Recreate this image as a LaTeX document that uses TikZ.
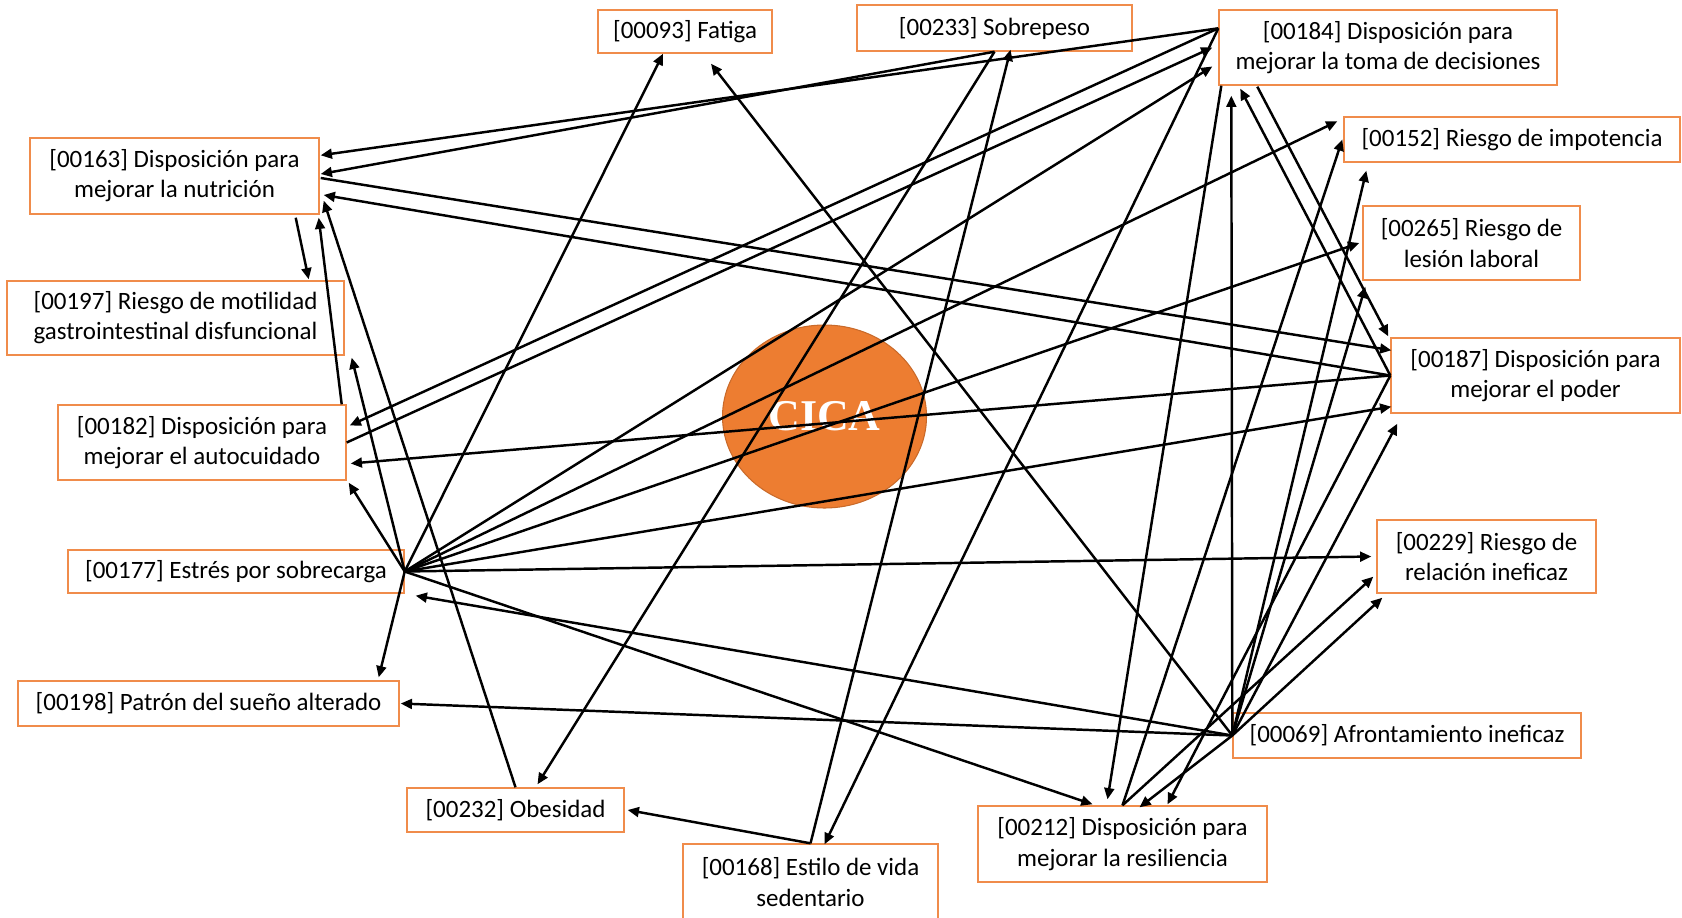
\documentclass[tikz,border=0pt]{standalone}
\usepackage{fontspec}
\setmainfont{Carlito}
\newfontfamily\cicafont{Liberation Serif}
\usetikzlibrary{arrows.meta,calc,shapes.geometric}
\definecolor{dxorange}{RGB}{237,125,49}
\definecolor{dxline}{RGB}{240,140,75}
\tikzset{lnk/.style={-{Triangle[length=3.2pt,width=2.8pt]}, line width=0.7pt},
  dxbox/.style={draw=dxline, line width=0.4pt, inner sep=0pt, align=center, font=\fontsize{7.1}{8.6}\selectfont}}

\begin{document}
\begin{tikzpicture}[x=0.1mm,y=-0.1mm]
  \useasboundingbox (0,0) rectangle (1682,917);
  \node[ellipse, fill=dxorange, draw=dxorange!85!black, line width=0.3pt, minimum width=20.4mm, minimum height=18.3mm, inner sep=0pt, text=white, font=\cicafont\bfseries\fontsize{12.5}{14}\selectfont] (cica) at (824.5,416.5) {CICA};

  \node[dxbox, minimum width=17.4mm, minimum height=4.3mm] (n093) at (685,31.5) {[00093] Fatiga};
  \node[dxbox, minimum width=27.5mm, minimum height=4.6mm] (n233) at (994.5,28) {[00233] Sobrepeso};
  \node[dxbox, minimum width=33.8mm, minimum height=7.5mm] (n184) at (1388,47.5) {[00184] Disposición para\\mejorar la toma de decisiones};
  \node[dxbox, minimum width=33.6mm, minimum height=4.5mm] (n152) at (1512,139.5) {[00152] Riesgo de impotencia};
  \node[dxbox, minimum width=21.7mm, minimum height=7.4mm] (n265) at (1471.5,243) {[00265] Riesgo de\\lesión laboral};
  \node[dxbox, minimum width=28.9mm, minimum height=7.5mm] (n187) at (1535.5,375.5) {[00187] Disposición para\\mejorar el poder};
  \node[dxbox, minimum width=21.9mm, minimum height=7.3mm] (n229) at (1486.5,556.5) {[00229] Riesgo de\\relación ineficaz};
  \node[dxbox, minimum width=34.8mm, minimum height=4.5mm] (n069) at (1407,735.5) {[00069] Afrontamiento ineficaz};
  \node[dxbox, minimum width=28.9mm, minimum height=7.6mm] (n212) at (1122.5,844) {[00212] Disposición para\\mejorar la resiliencia};
  \node[dxbox, minimum width=25.5mm, minimum height=7.6mm] (n168) at (810.5,882) {[00168] Estilo de vida\\sedentario};
  \node[dxbox, minimum width=21.7mm, minimum height=4.4mm] (n232) at (515.5,810) {[00232] Obesidad};
  \node[dxbox, minimum width=38.1mm, minimum height=4.5mm] (n198) at (208.5,703.5) {[00198] Patrón del sueño alterado};
  \node[dxbox, minimum width=33.6mm, minimum height=4.3mm] (n177) at (236,571.5) {[00177] Estrés por sobrecarga};
  \node[dxbox, minimum width=28.8mm, minimum height=7.5mm] (n182) at (202,442.5) {[00182] Disposición para\\mejorar el autocuidado};
  \node[dxbox, minimum width=33.7mm, minimum height=7.4mm] (n197) at (175.5,318) {[00197] Riesgo de motilidad\\gastrointestinal disfuncional};
  \node[dxbox, minimum width=28.9mm, minimum height=7.6mm] (n163) at (174.5,176) {[00163] Disposición para\\mejorar la nutrición};

  % from 00177
  \draw[lnk] (n177.east) -- ($(n197.south east)+(7,2)$);
  \draw[lnk] (n177.east) -- ($(n182.south east)+(2,2)$);
  \draw[lnk] (n177.east) -- ($(n093.south)+(-22,0)$);
  \draw[lnk] (n177.east) -- ($(n198.north east)+(-21,-3)$);
  \draw[lnk] (n177.east) -- ($(n184.west)+(-6,19)$);
  \draw[lnk] (n177.east) -- ($(n152.north west)+(-6,5)$);
  \draw[lnk] (n177.east) -- ($(n265.west)+(-3,0)$);
  \draw[lnk] (n177.east) -- ($(n187.south west)+(1,-7)$);
  \draw[lnk] (n177.east) -- ($(n229.west)+(-5,0)$);
  \draw[lnk] (n177.east) -- ($(n212.north)+(-30,-1)$);
  % from 00069
  \draw[lnk] (n069.west) -- ($(n177.south east)+(11,2)$);
  \draw[lnk] (n069.west) -- ($(n198.east)+(1,0)$);
  \draw[lnk] (n069.west) -- ($(n093.south)+(26,10)$);
  \draw[lnk] (n069.west) -- ($(n184.south west)+(13,10)$);
  \draw[lnk] (n069.west) -- ($(n152.south west)+(23,8)$);
  \draw[lnk] (n069.west) -- ($(n265.south west)+(3,6)$);
  \draw[lnk] (n069.west) -- ($(n187.south west)+(7,10)$);
  \draw[lnk] (n069.west) -- ($(n229.south west)+(6,4)$);
  \draw[lnk] (n069.west) -- ($(n212.north)+(17,2)$);
  % from 00184
  \draw[lnk] ($(n184.north west)+(0,19)$) -- ($(n163.north east)+(1,18)$);
  \draw[lnk] ($(n184.north west)+(0,19)$) -- ($(n182.east)+(3,-17)$);
  \draw[lnk] ($(n184.north west)+(0,19)$) -- ($(n168.north)+(14,1)$);
  \draw[lnk] ($(n184.south west)+(3,0)$) -- ($(n212.north)+(-15,-6)$);
  \draw[lnk] ($(n184.south west)+(39,1)$) -- ($(n187.north west)+(-2,-1)$);
  % from 00187
  \draw[lnk] (n187.west) -- ($(n163.east)+(4,19)$);
  \draw[lnk] (n187.west) -- ($(n182.east)+(4,21)$);
  \draw[lnk] (n187.west) -- ($(n184.south west)+(22,3)$);
  \draw[lnk] (n187.west) -- ($(n212.north)+(45,-1)$);
  % the rest
  \draw[lnk] ($(n163.south east)+(-24,3)$) -- ($(n197.north east)+(-36,-1)$);
  \draw[lnk] ($(n163.east)+(1,2)$) -- ($(n187.north west)+(1,13)$);
  \draw[lnk] ($(n182.north east)+(-5,0)$) -- ($(n163.south east)+(-1,3)$);
  \draw[lnk] (n182.east) -- ($(n184.west)+(-6,0)$);
  \draw[lnk] (n233.south) -- ($(n163.east)+(1,-2)$);
  \draw[lnk] (n233.south) -- ($(n232.north)+(22,-3)$);
  \draw[lnk] (n168.north) -- ($(n233.south)+(16,-2)$);
  \draw[lnk] (n168.north) -- ($(n232.east)+(3,0)$);
  \draw[lnk] (n232.north) -- ($(n163.south east)+(4,-14)$);
  \draw[lnk] (n212.north) -- ($(n152.west)+(-1,0)$);
  \draw[lnk] (n212.north) -- ($(n229.south west)+(-3,-17)$);
\end{tikzpicture}
\end{document}
